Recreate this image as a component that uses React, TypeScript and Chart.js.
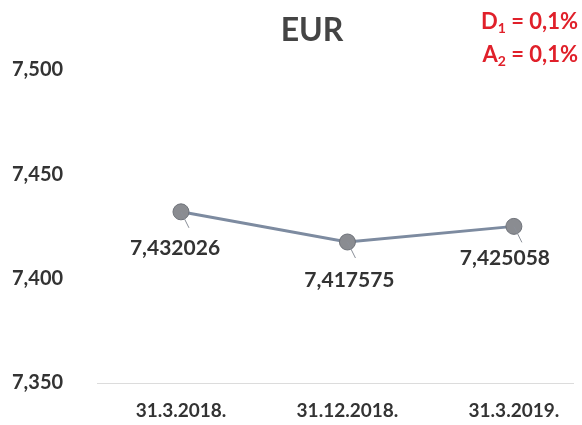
import React, { useEffect, useRef } from "react";
import { Chart, registerables } from "chart.js";
Chart.register(...registerables);

const categories = ["31.3.2018.", "31.12.2018.", "31.3.2019."];
const values = [7.432026, 7.417575, 7.425058];
const valueLabels = ["7,432026", "7,417575", "7,425058"];
const yTicks = [7.35, 7.4, 7.45, 7.5];
const titleText = "EUR";
const notes = [
  { main: "D", sub: "1", rest: " = 0,1%" },
  { main: "A", sub: "2", rest: " = 0,1%" },
];

const FONT = "Lato, 'Open Sans', sans-serif";

const overlay = {
  id: "overlay",
  afterDatasetsDraw(chart: any) {
    const ctx = chart.ctx;
    const meta = chart.getDatasetMeta(0);
    ctx.save();
    // title
    ctx.fillStyle = "#444";
    ctx.font = `bold 32px ${FONT}`;
    ctx.textAlign = "center";
    ctx.textBaseline = "middle";
    ctx.fillText(titleText, 312, 31);
    // notes
    ctx.fillStyle = "#e0202a";
    notes.forEach((n, i) => {
      const y = 22 + i * 33;
      const big = `bold 22px ${FONT}`;
      const small = `bold 14px ${FONT}`;
      ctx.font = big;
      const w1 = ctx.measureText(n.main).width;
      ctx.font = small;
      const w2 = ctx.measureText(n.sub).width;
      ctx.font = big;
      const w3 = ctx.measureText(n.rest).width;
      let x = 578 - (w1 + w2 + w3);
      ctx.textAlign = "left";
      ctx.textBaseline = "middle";
      ctx.font = big;
      ctx.fillText(n.main, x, y);
      x += w1;
      ctx.font = small;
      ctx.fillText(n.sub, x, y + 6);
      x += w2;
      ctx.font = big;
      ctx.fillText(n.rest, x, y);
    });
    // value labels
    ctx.fillStyle = "#333";
    ctx.font = `bold 21px ${FONT}`;
    ctx.textAlign = "center";
    ctx.textBaseline = "middle";
    const dx = [-6, 2, -9];
    const dy = [36, 38, 32];
    meta.data.forEach((pt: any, i: number) => {
      ctx.strokeStyle = "#8a8f98";
      ctx.lineWidth = 1;
      ctx.beginPath();
      ctx.moveTo(pt.x, pt.y);
      ctx.lineTo(pt.x + 8, pt.y + 16);
      ctx.stroke();
      ctx.fillText(valueLabels[i], pt.x + dx[i], pt.y + dy[i]);
    });
    ctx.restore();
  },
};

export default function App() {
  const ref = useRef<HTMLCanvasElement>(null);
  useEffect(() => {
    document.body.style.margin = "0";
    const chart = new Chart(ref.current!, {
      type: "line",
      data: {
        datasets: [
          {
            data: values.map((v, i) => ({ x: i, y: v })),
            borderColor: "#7d8ba0",
            borderWidth: 3,
            pointRadius: 8,
            pointBackgroundColor: "#8a8c91",
            pointBorderColor: "#6f737a",
            pointBorderWidth: 1,
            tension: 0,
          },
        ],
      },
      options: {
        animation: false,
        responsive: false,
        layout: { padding: { left: 12, top: 70, right: 0, bottom: 0 } },
        plugins: { legend: { display: false }, tooltip: { enabled: false } },
        scales: {
          x: {
            type: "linear",
            min: -0.5045,
            max: 2.355,
            afterBuildTicks: (s: any) => {
              s.ticks = categories.map((_, i) => ({ value: i }));
            },
            afterFit: (s: any) => {
              s.height = 42;
              s.paddingLeft = 0;
              s.paddingRight = 0;
            },
            ticks: {
              callback: (v: any) => categories[v] ?? "",
              color: "#333",
              font: { family: FONT, size: 19, weight: "bold" },
              padding: 16,
              maxRotation: 0,
            },
            grid: { display: false, drawTicks: false },
            border: { display: true, color: "#dcdcdc", width: 1, dash: [4, 2] },
          },
          y: {
            min: 7.35,
            max: 7.5,
            afterBuildTicks: (s: any) => {
              s.ticks = yTicks.map((v) => ({ value: v }));
            },
            afterFit: (s: any) => {
              s.width = 85;
            },
            ticks: {
              callback: (v: any) => Number(v).toFixed(3).replace(".", ","),
              color: "#333",
              font: { family: FONT, size: 20, weight: "bold" },
              padding: 6,
              crossAlign: "far",
            },
            grid: { display: false, drawTicks: false },
            border: { display: false },
          },
        },
      },
      plugins: [overlay],
    } as any);
    return () => chart.destroy();
  }, []);
  return (
    <div style={{ position: "absolute", left: 0, top: 0, width: 582, height: 425 }}>
      <canvas ref={ref} width={582} height={425} style={{ display: "block" }} />
    </div>
  );
}
